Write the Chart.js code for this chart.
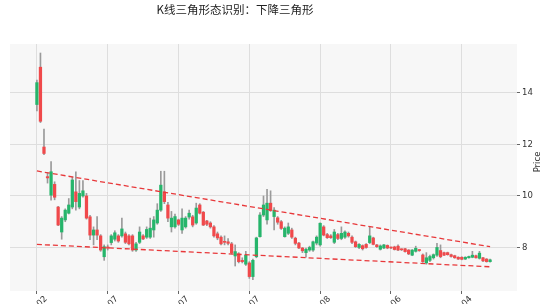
<!DOCTYPE html>
<html><head><meta charset="utf-8">
<script src="https://cdn.jsdelivr.net/npm/chart.js@4"></script>
<style>html,body{margin:0;padding:0;background:#fff}#wrap{width:553px;height:304px;position:relative}</style>
</head><body><div id="wrap"><canvas id="c"></canvas></div>
<script>
const titleText = 'K线三角形态识别：下降三角形';
const yAxisLabel = 'Price';
const openP = [13.55,15.0,11.9,10.75,10.03,10.45,9.57,8.6,9.07,9.33,
9.57,10.16,9.57,10.0,10.0,9.19,8.48,8.68,8.45,7.64,
8.02,8.19,8.32,8.45,8.45,8.53,8.45,8.45,7.9,8.2,
8.45,8.4,8.4,8.68,8.95,9.45,10.16,9.65,8.8,8.8,
9.07,8.68,8.8,9.18,9.19,8.95,9.65,9.37,9.03,8.95,
8.8,8.53,8.4,8.23,8.22,8.14,7.67,7.75,7.5,7.35,
7.4,6.87,7.64,8.42,9.26,9.07,9.72,9.2,9.15,9.0,
8.42,8.55,8.68,8.36,8.17,7.98,7.8,7.9,7.9,8.17,
8.1,8.8,8.5,8.45,8.2,8.5,8.35,8.4,8.55,8.4,
8.22,8.0,8.07,8.12,8.19,8.37,8.1,7.93,7.98,8.08,
8.0,8.02,8.05,7.93,7.95,7.9,7.7,7.85,7.9,7.71,
7.4,7.5,7.6,7.7,7.88,7.8,7.8,7.72,7.68,
7.62,7.62,7.55,7.6,7.62,7.68,7.58,7.6,7.55,7.45];
const closeP = [14.4,12.9,11.65,10.7,10.94,9.95,8.87,9.14,9.45,9.65,
10.62,9.78,10.1,10.2,9.14,8.48,8.68,8.48,7.9,8.03,
7.97,8.45,8.57,8.25,8.72,8.2,8.14,7.9,8.14,8.6,
8.33,8.7,8.75,9.07,9.45,10.42,9.78,9.14,9.14,9.2,
8.9,9.14,9.14,9.33,8.87,9.53,9.33,8.87,8.9,8.8,
8.45,8.37,8.14,8.2,8.16,7.79,7.84,7.45,7.45,7.7,
6.87,7.5,8.37,9.26,9.65,9.72,9.43,9.45,8.98,8.74,
8.75,8.8,8.4,8.16,7.98,7.87,7.93,8.0,8.22,8.4,
8.94,8.48,8.38,8.38,8.6,8.35,8.55,8.6,8.45,8.2,
8.03,8.12,7.95,8.0,8.45,8.12,8.03,8.06,8.1,7.98,
7.98,7.92,7.9,7.91,7.84,7.75,7.9,7.97,7.88,7.45,
7.6,7.65,7.72,8.0,7.64,7.7,7.72,7.65,7.6,
7.55,7.54,7.62,7.65,7.7,7.6,7.78,7.48,7.45,7.52];
const highP = [14.5,15.55,12.6,10.9,11.33,10.55,9.6,9.2,9.5,9.9,
10.74,10.94,10.6,10.6,10.1,9.25,8.8,9.2,8.5,8.1,
8.1,8.5,8.65,8.5,9.14,8.6,8.5,8.5,8.2,8.8,
8.5,8.8,9.14,9.2,9.7,10.96,10.96,9.75,9.4,9.3,
9.1,9.5,9.2,9.45,9.25,9.72,9.7,9.4,9.05,9.0,
8.85,8.6,8.45,8.45,8.35,8.2,8.1,7.8,7.6,7.85,
7.45,7.55,8.4,9.35,10.0,10.26,10.2,9.55,9.2,9.05,
8.8,8.95,8.75,8.4,8.2,8.0,7.98,8.05,8.25,8.45,
8.96,8.85,8.55,8.5,8.7,8.55,8.8,8.65,8.6,8.45,
8.25,8.15,8.1,8.15,8.8,8.4,8.12,8.1,8.12,8.1,
8.02,8.05,8.1,7.95,7.97,7.92,7.92,8.05,7.92,7.75,
7.8,7.7,7.75,8.16,8.1,7.82,7.82,7.74,7.7,
7.64,7.64,7.64,7.67,7.85,7.7,7.85,7.62,7.57,7.55];
const lowP = [13.3,12.85,11.6,10.5,9.84,9.85,8.85,8.32,9.0,9.3,
9.5,9.45,9.5,9.95,9.1,8.3,8.1,8.3,7.85,7.5,
7.9,8.1,8.25,8.2,8.4,8.15,8.1,7.85,7.85,8.15,
8.3,8.35,8.35,8.4,8.9,9.4,9.7,9.0,8.6,8.75,
8.85,8.55,8.75,9.1,8.8,8.9,9.3,8.85,8.85,8.75,
8.4,8.3,8.1,8.1,8.1,7.75,7.28,7.4,7.4,7.3,
6.8,6.75,7.6,8.4,9.2,8.9,9.4,8.68,8.9,8.7,
8.4,8.5,8.35,8.1,7.95,7.8,7.62,7.85,7.85,8.1,
8.05,8.45,8.35,8.35,8.15,8.3,8.3,8.35,8.4,8.15,
8.0,7.95,7.9,7.97,8.15,8.1,8.0,7.9,7.95,7.95,
7.95,7.9,7.88,7.88,7.82,7.72,7.68,7.82,7.85,7.42,
7.35,7.45,7.55,7.65,7.6,7.68,7.7,7.62,7.58,
7.53,7.52,7.53,7.58,7.6,7.58,7.55,7.45,7.43,7.43];
const tickIdx = [0,20,40,60,80,100,120];
const tickLabels = ['02','07','07','07','08','06','04'];
const yTicks = [8,10,12,14];
const upperLineX = [0,128];
const upperLineY = [10.97,8.03];
const lowerLineX = [0,128];
const lowerLineY = [8.12,7.25];

const UP = '#26b56b', DOWN = '#f0494b', WICK = '#9a9a9a', TREND = '#e8383a';
const FONT = 'DejaVu Sans';

const wickData = openP.map((_, i) => ({x: i, y: [lowP[i], highP[i]]}));
const bodyData = openP.map((o, i) => ({x: i, y: [o, closeP[i]]}));
const bodyColors = openP.map((o, i) => closeP[i] >= o ? UP : DOWN);

const bgPlugin = {
  id: 'bg',
  beforeDraw(chart) {
    const {ctx, chartArea: a} = chart;
    ctx.save();
    ctx.fillStyle = '#f7f7f7';
    ctx.fillRect(a.left, a.top, a.right - a.left, a.bottom - a.top);
    ctx.restore();
  },
  afterDraw(chart) {
    const {ctx} = chart;
    ctx.save();
    ctx.fillStyle = '#222';
    ctx.font = '11.5px "Noto Sans CJK SC"';
    ctx.textAlign = 'center';
    ctx.textBaseline = 'middle';
    ctx.fillText(titleText, 235, 10);
    ctx.translate(538, 162);
    ctx.rotate(-Math.PI / 2);
    ctx.font = '8.5px ' + FONT;
    ctx.fillStyle = '#333';
    ctx.fillText(yAxisLabel, 0, 0);
    ctx.restore();
  }
};

new Chart(document.getElementById('c'), {
  type: 'bar',
  data: {
    datasets: [
      {type: 'line', data: upperLineX.map((x, i) => ({x, y: upperLineY[i]})), borderColor: TREND, borderWidth: 1.3, borderDash: [5, 3], pointRadius: 0, fill: false, order: 0},
      {type: 'line', data: lowerLineX.map((x, i) => ({x, y: lowerLineY[i]})), borderColor: TREND, borderWidth: 1.3, borderDash: [5, 3], pointRadius: 0, fill: false, order: 0},
      {data: bodyData, backgroundColor: bodyColors, barThickness: 2.6, minBarLength: 1, grouped: false, order: 1},
      {data: wickData, backgroundColor: WICK, barThickness: 1, grouped: false, order: 2}
    ]
  },
  options: {
    responsive: true,
    maintainAspectRatio: false,
    animation: false,
    devicePixelRatio: 1,
    layout: {padding: {left: 10, top: 44, right: 0, bottom: 0}},
    plugins: {legend: {display: false}, tooltip: {enabled: false}, title: {display: false}},
    scales: {
      x: {
        type: 'linear', min: -7.6, max: 135.6, offset: false,
        afterBuildTicks: s => { s.ticks = tickIdx.map(v => ({value: v})); },
        afterFit: s => { s.height = 13; },
        grid: {offset: false, color: '#dedede', lineWidth: 1, drawTicks: true, tickLength: 3, tickColor: '#666'},
        border: {display: false},
        ticks: {autoSkip: false, minRotation: 45, maxRotation: 45, labelOffset: 9, padding: 0,
          font: {family: FONT, size: 8.5}, color: '#333',
          callback: v => { const k = tickIdx.indexOf(v); return k >= 0 ? tickLabels[k] : ''; }}
      },
      y: {
        position: 'right', min: 6.31, max: 15.9,
        afterBuildTicks: s => { s.ticks = yTicks.map(v => ({value: v})); },
        afterFit: s => { s.width = 36; },
        grid: {color: '#dedede', lineWidth: 1, drawTicks: true, tickLength: 3, tickColor: '#666'},
        border: {display: false},
        ticks: {padding: 2, font: {family: FONT, size: 8.5}, color: '#333'}
      }
    }
  },
  plugins: [bgPlugin]
});
</script></body></html>
